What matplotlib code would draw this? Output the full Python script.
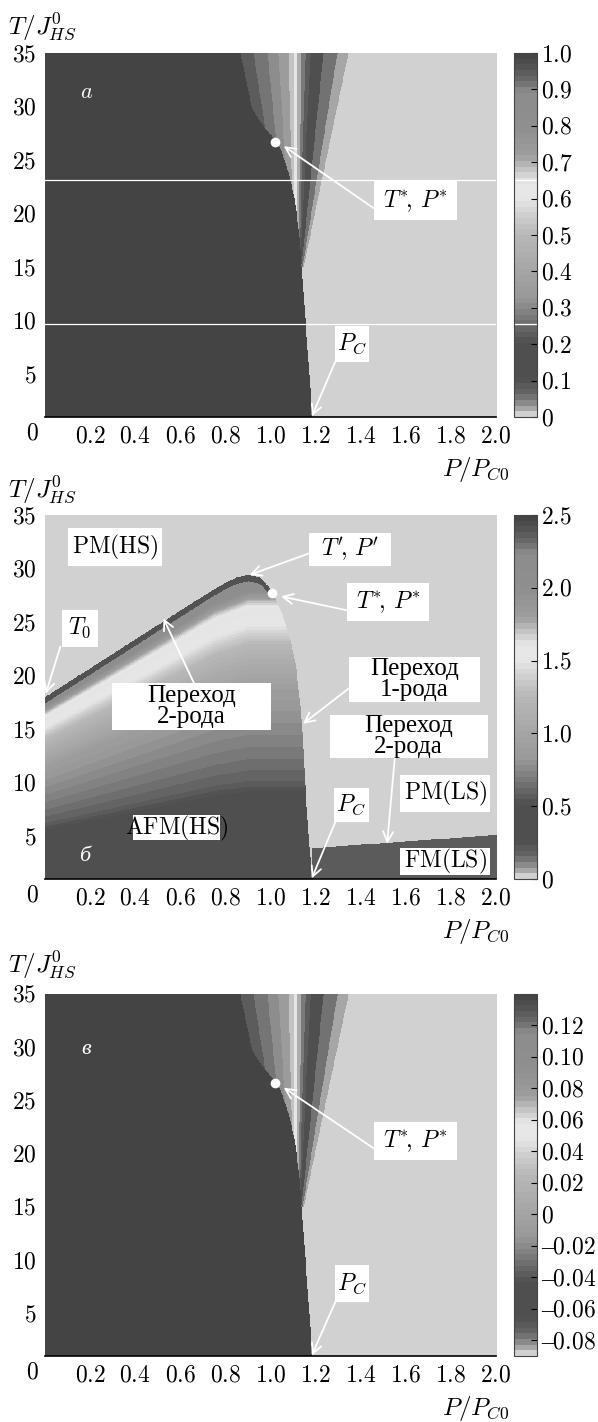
import numpy as np
import matplotlib
matplotlib.use('Agg')
import matplotlib.pyplot as plt
from matplotlib.colors import LinearSegmentedColormap
from matplotlib.patches import Rectangle

plt.rcParams['mathtext.fontset'] = 'cm'
plt.rcParams['font.family'] = ['Liberation Serif', 'DejaVu Serif']

FS = 17

# grey scale of the colour bars: position on the bar -> grey level
bar_pos = [0.0, 0.015, 0.04, 0.065, 0.10, 0.20, 0.24, 0.28, 0.33, 0.40, 0.50,
           0.55, 0.60, 0.645, 0.69, 0.72, 0.80, 0.90, 0.93, 0.97, 1.0]
bar_grey = [0.82, 0.66, 0.48, 0.38, 0.31, 0.31, 0.40, 0.50, 0.60, 0.65, 0.72,
            0.80, 0.90, 0.91, 0.74, 0.62, 0.56, 0.55, 0.42, 0.32, 0.27]

P_range = [0.0, 2.0]
T_range = [1.0, 35.0]
P_ticks = [0.2, 0.4, 0.6, 0.8, 1.0, 1.2, 1.4, 1.6, 1.8, 2.0]
T_ticks = [5, 10, 15, 20, 25, 30, 35]

# panels a and в: left edge of the dark HS region
hs_edge_T = [1, 15, 18, 21.3, 23.8, 26.0, 26.7, 28.0, 29.7, 35]
hs_edge_P = [1.183, 1.136, 1.125, 1.105, 1.078, 1.042, 1.024, 0.97, 0.917, 0.864]
# crossover fan: band edges at its foot (T=15) and at the top (T=35)
fan_T = [15.0, 35.0]
fan_foot_P = [1.06, 1.07, 1.08, 1.09, 1.10, 1.105, 1.115, 1.12, 1.125, 1.13, 1.135, 1.14, 1.145]
fan_top_P = [0.865, 0.922, 0.984, 1.033, 1.078, 1.100, 1.117, 1.135, 1.153, 1.175, 1.233, 1.295, 1.344]
fan_a = [0.95, 0.92, 0.85, 0.72, 0.68, 0.62, 0.45, 0.28, 0.22, 0.14, 0.06, 0.03]
fan_c = [0.128, 0.122, 0.105, 0.076, 0.066, 0.053, 0.014, -0.026, -0.039, -0.058, -0.076, -0.083]
hs_ls_a = [1.0, 0.0]
hs_ls_c = [0.14, -0.09]
bar_a = [0.0, 0.1, 0.2, 0.3, 0.4, 0.5, 0.6, 0.7, 0.8, 0.9, 1.0]
bar_b = [0.0, 0.5, 1.0, 1.5, 2.0, 2.5]
bar_c = [-0.08, -0.06, -0.04, -0.02, 0.0, 0.02, 0.04, 0.06, 0.08, 0.10, 0.12]
lim_a = [0.0, 1.0]
lim_b = [0.0, 2.5]
lim_c = [-0.09, 0.14]
streak_T = [23.1, 9.7]       # white streaks across panel a
streak_bar = [0.65, 0.255]

# panel б: upper boundary of the AFM(HS) dome
dome_P = [0, 0.2, 0.4, 0.6, 0.75, 0.8, 0.85, 0.9, 0.95, 1.0, 1.05, 1.087, 1.11, 1.138, 1.153, 1.17, 1.183]
dome_T = [18.0, 20.7, 23.4, 26.1, 28.1, 28.7, 29.2, 29.4, 29.2, 28.1, 25.8, 23.3, 21.0, 15.6, 9.3, 4.0, 1.0]
ridge_P = [0, 0.75, 0.9, 2.0]
ridge_T = [18.0, 28.1, 29.4, 29.4]
shade_u = [0, 0.2, 0.29, 0.34, 0.40, 0.47, 0.55, 0.64, 0.78, 0.85, 0.89, 0.95, 1.0]
shade_v = [0.35, 0.38, 0.45, 0.58, 0.65, 0.72, 0.8, 0.9, 1.25, 1.55, 1.5, 2.0, 2.1]
rim_v = 2.4
fm_P = [1.183, 2.0]
fm_T = [3.86, 5.1]
fm_v = 0.55

Tstar_a = (1.022, 26.73)
Tstar_b = (1.008, 27.7)
Tstar_c = (1.022, 26.64)

# text, box (P0, T0, P1, T1), arrow start, arrow tip
notes_a = [(r'$T^{*}\!,\,P^{*}$', (1.458, 19.4, 1.827, 23.0), (1.458, 20.5), (1.059, 26.3)),
           (r'$P_{C}$', (1.285, 6.15, 1.437, 9.48), (1.29, 6.3), (1.183, 1.06))]
notes_c = [(r'$T^{*}\!,\,P^{*}$', (1.458, 19.4, 1.827, 23.0), (1.458, 20.5), (1.059, 26.2)),
           (r'$P_{C}$', (1.285, 6.05, 1.437, 9.58), (1.29, 6.2), (1.183, 1.06))]
notes_b = [(r'$\mathrm{PM(HS)}$', (0.102, 30.24, 0.517, 33.75), None, None),
           (r"$T'\!,\,P'$", (1.169, 30.24, 1.534, 33.29), (1.169, 31.4), (0.907, 29.4)),
           (r'$T^{*}\!,\,P^{*}$', (1.339, 25.13, 1.703, 28.62), (1.339, 26.1), (1.047, 27.4)),
           (r'$T_{0}$', (0.076, 22.70, 0.234, 26.13), (0.068, 22.7), (0.003, 18.3)),
           ('Переход\n2-рода', (0.297, 14.92, 1.0, 19.28), (0.661, 19.28), (0.525, 25.35)),
           ('Переход\n1-рода', (1.347, 17.56, 1.929, 21.77), (1.347, 18.8), (1.144, 15.5)),
           ('Переход\n2-рода', (1.263, 12.27, 1.963, 16.32), (1.551, 12.27), (1.517, 4.3)),
           (r'$\mathrm{PM(LS)}$', (1.576, 7.29, 1.975, 10.71), None, None),
           (r'$\mathrm{FM(LS)}$', (1.576, 1.37, 1.975, 3.86), None, None),
           (r'$P_{C}$', (1.28, 6.36, 1.437, 9.47), (1.288, 6.36), (1.183, 1.06))]
afm_label = (r'$\mathrm{AFM(HS)}$', (0.39, 4.64, 0.776, 6.98), (0.585, 5.7))

cmap = LinearSegmentedColormap.from_list(
    'bars', list(zip(bar_pos, [(g, g, g) for g in bar_grey])), N=64)

P_grid = np.linspace(P_range[0], P_range[1], 1001)
T_grid = np.linspace(T_range[0], T_range[1], 801)
PP, TT = np.meshgrid(P_grid, T_grid)


def crossover_field(fan_vals, levels):
    z = np.full(PP.shape, float(levels[1]))
    s = np.clip((TT - fan_T[0]) / (fan_T[1] - fan_T[0]), 0, 1)
    above = TT >= fan_T[0]
    edges = [f + (t - f) * s for f, t in zip(fan_foot_P, fan_top_P)]
    z[above & (PP < edges[-1])] = fan_vals[0]
    for k, v in enumerate(fan_vals):
        z[above & (PP >= edges[k]) & (PP < edges[k + 1])] = v
    z[PP < np.interp(TT, hs_edge_T, hs_edge_P)] = levels[0]
    return z


def spin_field():
    top = np.interp(PP, dome_P, dome_T)
    ridge = np.interp(PP, ridge_P, ridge_T)
    z = np.zeros(PP.shape)
    z[(PP > fm_P[0]) & (TT < np.interp(PP, fm_P, fm_T))] = fm_v
    inside = (TT < top) & (PP <= dome_P[-1])
    z[inside] = np.interp(TT / ridge, shade_u, shade_v)[inside]
    z[inside & (top - TT < 0.6) & (PP < 1.0)] = rim_v
    return z


def fmt(v, nd):
    if v == 0:
        return '$0$'
    if v < 0:
        return '\u2013$%.*f$' % (nd, -v)
    return '$%.*f$' % (nd, v)


def panel(bottom, height, z, lim, bar_ticks, nd, ytop_px):
    ax = fig.add_axes([45 / 598, bottom, 451 / 598, height])
    cax = fig.add_axes([514 / 598, bottom, 23 / 598, height])
    im = ax.imshow(z, extent=P_range + T_range, origin='lower', aspect='auto',
                   cmap=cmap, vmin=lim[0], vmax=lim[1], interpolation='nearest')
    ax.set_xlim(P_range)
    ax.set_ylim(T_range)
    for s in ['top', 'right', 'left']:
        ax.spines[s].set_visible(False)
    ax.spines['bottom'].set_linewidth(1.2)
    ax.set_xticks(P_ticks, ['$%.1f$' % p for p in P_ticks])
    ax.set_yticks(T_ticks, ['$%d$' % t for t in T_ticks])
    ax.tick_params(axis='x', length=0, pad=7, labelsize=FS)
    ax.tick_params(axis='y', length=0, pad=6, labelsize=FS)
    ax.text(-0.028, -0.017, '$0$', transform=ax.transAxes, ha='center', va='top', fontsize=FS)
    ax.text(0.955, -0.145, '$P/P_{C0}$', transform=ax.transAxes, ha='center', va='center', fontsize=FS + 1)
    fig.text(42 / 598, 1 - ytop_px / 1422, '$T/J^{0}_{HS}$', ha='center', va='center', fontsize=FS + 1)
    cb = fig.colorbar(im, cax=cax, ticks=bar_ticks)
    cb.set_ticks(bar_ticks, labels=[fmt(v, nd) for v in bar_ticks])
    cax.tick_params(direction='in', length=4, width=0.8, pad=3, labelsize=FS)
    cb.outline.set_linewidth(0.8)
    cb.outline.set_edgecolor('#444444')
    return ax, cax


def add_note(ax, text, box, start, tip):
    ax.add_patch(Rectangle((box[0], box[1]), box[2] - box[0], box[3] - box[1],
                           facecolor='white', edgecolor='none', zorder=3))
    size = FS + 1 if '$' not in text else FS
    ax.text((box[0] + box[2]) / 2, (box[1] + box[3]) / 2, text, ha='center', va='center',
            fontsize=size, zorder=4, linespacing=0.95)
    if start is not None:
        ax.annotate('', xy=tip, xytext=start, zorder=5,
                    arrowprops=dict(arrowstyle='->', color='white', lw=1.3,
                                    mutation_scale=18, shrinkA=0, shrinkB=0))


fig = plt.figure(figsize=(5.98, 14.22), dpi=100)

# panel a
ax, cax = panel(1 - 417 / 1422, 364 / 1422, crossover_field(fan_a, hs_ls_a), lim_a, bar_a, 1, 26)
for t, b in zip(streak_T, streak_bar):
    ax.axhline(t, color='white', lw=0.9, zorder=2)
    cax.axhline(b, color='white', lw=0.9)
for n in notes_a:
    add_note(ax, *n)
ax.plot(*Tstar_a, 'o', color='white', ms=7, mec='none', zorder=6)
ax.text(0.183, 31.2, '$a$', color='white', ha='center', va='center', fontsize=FS - 1)

# panel б
ax, cax = panel(1 - 879 / 1422, 364 / 1422, spin_field(), lim_b, bar_b, 1, 489)
for n in notes_b:
    add_note(ax, *n)
txt, box, pos = afm_label
ax.add_patch(Rectangle((box[0], box[1]), box[2] - box[0], box[3] - box[1],
                       facecolor='white', edgecolor='none', zorder=3))
ax.text(pos[0], pos[1], txt, ha='center', va='center', fontsize=FS, zorder=4)
ax.plot(*Tstar_b, 'o', color='white', ms=7, mec='none', zorder=6)
ax.text(0.178, 3.1, 'б', color='white', ha='center', va='center', fontsize=FS - 1, style='italic')

# panel в
ax, cax = panel(1 - 1356 / 1422, 362 / 1422, crossover_field(fan_c, hs_ls_c), lim_c, bar_c, 2, 964)
for n in notes_c:
    add_note(ax, *n)
ax.plot(*Tstar_c, 'o', color='white', ms=7, mec='none', zorder=6)
ax.text(0.183, 29.8, 'в', color='white', ha='center', va='center', fontsize=FS - 1, style='italic')

fig.savefig('out.png', dpi=100)
